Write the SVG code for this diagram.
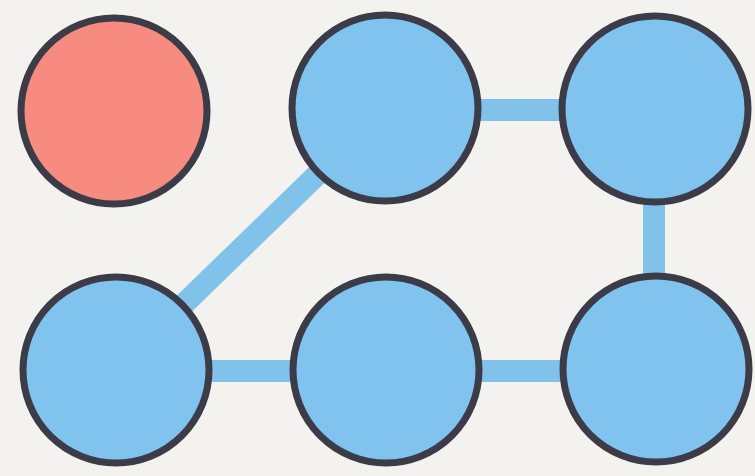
<svg xmlns="http://www.w3.org/2000/svg" width="755" height="476" viewBox="0 0 755 476">
<style>
.node{stroke:#3b3c48;stroke-width:7}
.blue{fill:#7fc3ee}
.red{fill:#f88b80}
.edge{stroke:#80c2ea;stroke-width:22;fill:none}
</style>
<rect width="755" height="476" fill="#f3f2ee"/>
<g id="connectors">
<line class="edge" x1="385" y1="110" x2="655" y2="110"/>
<line class="edge" x1="654" y1="109" x2="654" y2="369"/>
<line class="edge" x1="392" y1="102" x2="118" y2="368"/>
<line class="edge" x1="116" y1="371" x2="386" y2="371"/>
<line class="edge" x1="386" y1="371" x2="656" y2="371"/>
</g>
<g id="n1"><circle class="node red" cx="114" cy="111" r="93"/></g>
<g id="n2"><circle class="node blue" cx="385" cy="108" r="93"/></g>
<g id="n3"><circle class="node blue" cx="655" cy="109" r="93"/></g>
<g id="n4"><circle class="node blue" cx="116" cy="370" r="93"/></g>
<g id="n5"><circle class="node blue" cx="386" cy="370" r="93"/></g>
<g id="n6"><circle class="node blue" cx="656" cy="369" r="93"/></g>
</svg>
